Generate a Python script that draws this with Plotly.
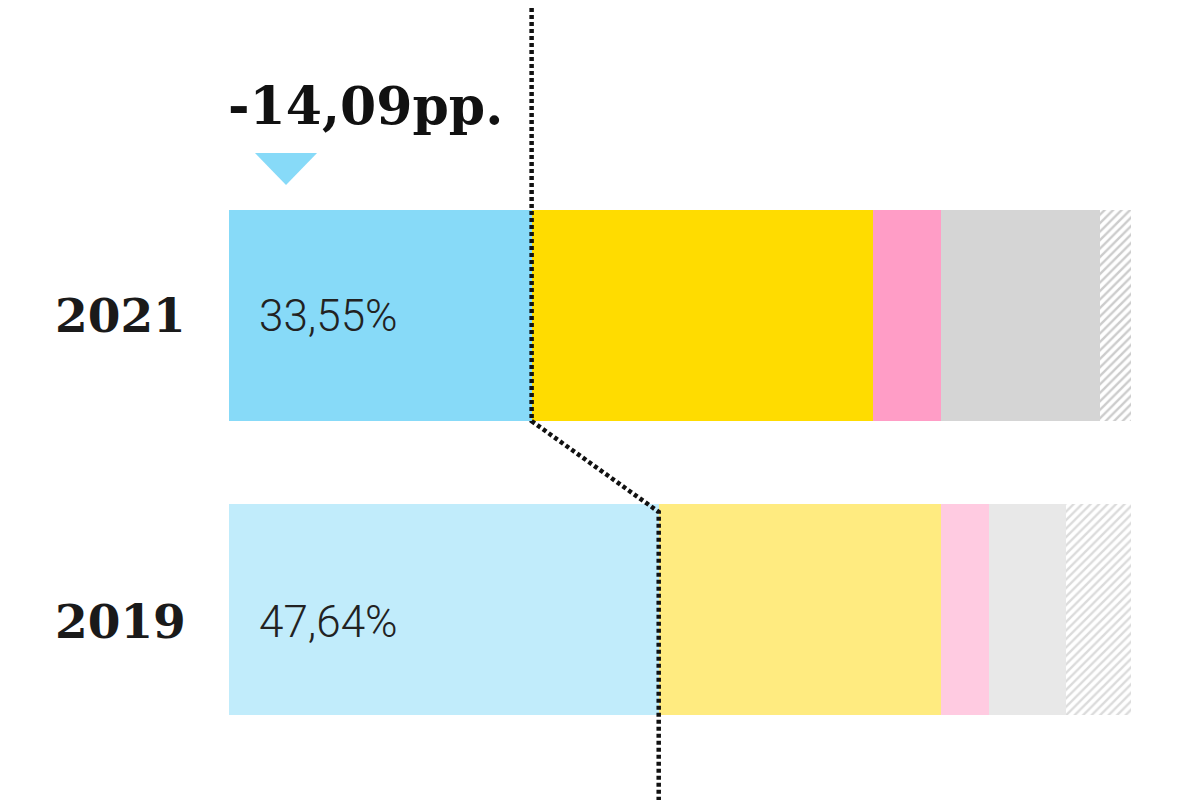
import plotly.graph_objects as go

# ---- data ----
years = ["2021", "2019"]
y_pos = [1, 0]
blue = [33.55, 47.64]
yellow = [37.8, 31.3]
pink = [7.6, 5.3]
gray = [17.6, 8.6]
other = [3.45, 7.16]
pct_labels = ["33,55%", "47,64%"]
change_label = "-14,09pp."

# ---- styles ----
blue_c = ["#87DAF8", "#C1ECFB"]
yellow_c = ["#FFDC00", "#FFEB80"]
pink_c = ["#FF9DC6", "#FFCBE1"]
gray_c = ["#D5D5D5", "#E8E8E8"]
hatch_fg = ["#9A9A9A", "#B8B8B8"]
label_shift = [0.0, -0.042]

BAR_W = 0.718
Y_MIN, Y_MAX = -0.675, 2.046

fig = go.Figure()
for vals, cols, name in [(blue, blue_c, "blue"), (yellow, yellow_c, "yellow"),
                         (pink, pink_c, "pink"), (gray, gray_c, "gray")]:
    fig.add_trace(go.Bar(
        y=y_pos, x=vals, orientation="h", width=BAR_W, name=name,
        marker=dict(color=cols, line=dict(width=0)), hoverinfo="skip"))

fig.add_trace(go.Bar(
    y=y_pos, x=other, orientation="h", width=BAR_W, name="other",
    marker=dict(color="white", line=dict(width=0),
                pattern=dict(shape="/", fgcolor=hatch_fg, bgcolor="white",
                             size=6, solidity=0.4)),
    hoverinfo="skip"))

# dotted connector line between the blue segment ends
fig.add_trace(go.Scatter(
    x=[blue[0], blue[0], blue[1], blue[1]],
    y=[Y_MAX, y_pos[0] - BAR_W / 2, y_pos[1] + BAR_W / 2 - 0.027, Y_MIN],
    mode="lines", line=dict(color="#111111", width=4.5, dash="4px,3px"),
    hoverinfo="skip", showlegend=False))

annotations = []
for yp, yr, lab, sh in zip(y_pos, years, pct_labels, label_shift):
    annotations.append(dict(
        x=-0.045, y=yp + sh, xref="paper", yref="y", text=yr, showarrow=False,
        xanchor="right", yanchor="middle",
        font=dict(family="DejaVu Serif", size=47, color="#1A1A1A", weight="bold")))
    annotations.append(dict(
        x=3.1, y=yp + sh, xref="x", yref="y", text=lab, showarrow=False,
        xanchor="left", yanchor="middle",
        font=dict(family="Roboto", size=44, color="#222222", weight=300)))

annotations.append(dict(
    x=-0.003, y=1.714, xref="paper", yref="y", text=change_label, showarrow=False,
    xanchor="left", yanchor="middle",
    font=dict(family="DejaVu Serif", size=52, color="#111111", weight="bold")))

# downward triangle marker under the change label
tri_x = [2.88, 9.76, 6.32]
tri_y = [1.553, 1.553, 1.444]
path = "M {} {} L {} {} L {} {} Z".format(tri_x[0], tri_y[0], tri_x[1], tri_y[1], tri_x[2], tri_y[2])

fig.update_layout(
    width=1200, height=800,
    barmode="stack", showlegend=False, bargap=0,
    paper_bgcolor="white", plot_bgcolor="white",
    margin=dict(l=221, r=77, t=0, b=0),
    xaxis=dict(range=[0, 100], visible=False, fixedrange=True),
    yaxis=dict(range=[Y_MIN, Y_MAX], visible=False, fixedrange=True),
    annotations=annotations,
    shapes=[dict(type="path", path=path, xref="x", yref="y",
                 fillcolor=blue_c[0], line=dict(width=0))],
)

fig.write_html("out.html")
